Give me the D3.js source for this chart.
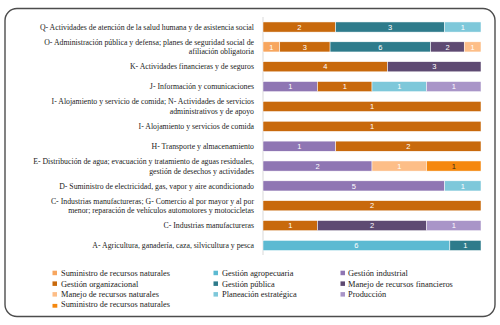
<!DOCTYPE html>
<html>
<head>
<meta charset="utf-8">
<script src="https://cdn.jsdelivr.net/npm/d3@7"></script>
<style>
  body { margin: 0; background: #fff; }
  .cat { font-family: "Liberation Serif", serif; font-size: 7.8px; fill: #222; }
  .leg { font-family: "Liberation Serif", serif; font-size: 8.4px; fill: #222; }
  .val { font-family: "Liberation Sans", Arial, sans-serif; font-size: 7.5px; }
</style>
</head>
<body>
<svg width="500" height="325"></svg>
<script>
// categories, top to bottom (line breaks as in the original)
const categories = [
  ["Q- Actividades de atención de la salud humana y de asistencia social"],
  ["O- Administración pública y defensa; planes de seguridad social de", "afiliación obligatoria"],
  ["K- Actividades financieras y de seguros"],
  ["J- Información y comunicaciones"],
  ["I- Alojamiento y servicio de comida; N- Actividades de servicios", "administrativos y de apoyo"],
  ["I- Alojamiento y servicios de comida"],
  ["H- Transporte y almacenamiento"],
  ["E- Distribución de agua; evacuación y tratamiento de aguas residuales,", "gestión de desechos y actividades"],
  ["D- Suministro de electricidad, gas, vapor y aire acondicionado"],
  ["C- Industrias manufactureras; G- Comercio al por mayor y al por", "menor; reparación de vehículos automotores  y motocicletas"],
  ["C- Industrias manufactureras"],
  ["A- Agricultura, ganadería, caza, silvicultura y pesca"]
];

// series in stacking order; values follow the category order above
const seriesKeys = ["sum1", "gind", "gagro", "gorg", "gpub", "plan", "mfin", "mnat", "sum2", "prod"];
const seriesNames = {
  sum1: "Suministro de recursos naturales",
  gorg: "Gestión organizacional",
  mnat: "Manejo de recursos naturales",
  sum2: "Suministro de recursos naturales",
  gagro: "Gestión agropecuaria",
  gpub: "Gestión pública",
  plan: "Planeación estratégica",
  gind: "Gestión industrial",
  mfin: "Manejo de recursos financieros",
  prod: "Producción"
};
const seriesColors = {
  sum1: "#f7a65f", gorg: "#c8690c", mnat: "#fdbe88", sum2: "#f5880f",
  gagro: "#5cbad2", gpub: "#2e7b8b", plan: "#7ec8da",
  gind: "#8f76b3", mfin: "#5e4a72", prod: "#a995c8"
};

const sum1  = [0, 1, 0, 0, 0, 0, 0, 0, 0, 0, 0, 0];
const gind  = [0, 0, 0, 1, 0, 0, 1, 2, 5, 0, 0, 0];
const gagro = [0, 0, 0, 0, 0, 0, 0, 0, 0, 0, 0, 6];
const gorg  = [2, 3, 4, 1, 1, 1, 2, 0, 0, 2, 1, 0];
const gpub  = [3, 6, 0, 0, 0, 0, 0, 0, 0, 0, 0, 1];
const plan  = [1, 0, 0, 1, 0, 0, 0, 0, 1, 0, 0, 0];
const mfin  = [0, 2, 3, 0, 0, 0, 0, 0, 0, 0, 2, 0];
const mnat  = [0, 1, 0, 0, 0, 0, 0, 1, 0, 0, 0, 0];
const sum2  = [0, 0, 0, 0, 0, 0, 0, 1, 0, 0, 0, 0];
const prod  = [0, 0, 0, 1, 0, 0, 0, 0, 0, 0, 1, 0];

// legend layout: three columns
const legendColumns = [
  ["sum1", "gorg", "mnat", "sum2"],
  ["gagro", "gpub", "plan"],
  ["gind", "mfin", "prod"]
];

const values = { sum1, gind, gagro, gorg, gpub, plan, mfin, mnat, sum2, prod };
const rows = categories.map((c, i) => {
  const r = { idx: i };
  seriesKeys.forEach(k => r[k] = values[k][i]);
  return r;
});

const svg = d3.select("svg");

// frame
svg.append("rect")
  .attr("x", 5).attr("y", 8.5)
  .attr("width", 490).attr("height", 308)
  .attr("rx", 12).attr("ry", 12)
  .attr("fill", "none")
  .attr("stroke", "#4d4d4d")
  .attr("stroke-width", 1.4);

const x = d3.scaleLinear().domain([0, 1]).range([263, 481]);
const y = d3.scaleBand()
  .domain(d3.range(categories.length))
  .range([17, 255.5])
  .paddingInner(0.49)
  .paddingOuter(0.25);

const stack = d3.stack().keys(seriesKeys).offset(d3.stackOffsetExpand);
const stacked = stack(rows);

// axis line
svg.append("line")
  .attr("x1", x(0)).attr("x2", x(0))
  .attr("y1", 17).attr("y2", 255)
  .attr("stroke", "#d9d9d9")
  .attr("stroke-width", 1);

const layers = svg.append("g").selectAll("g")
  .data(stacked)
  .join("g")
  .attr("fill", d => seriesColors[d.key]);

layers.selectAll("rect")
  .data(d => d.map(p => ({ key: d.key, p })))
  .join("rect")
  .filter(d => d.p[1] > d.p[0])
  .attr("x", d => x(d.p[0]))
  .attr("width", d => x(d.p[1]) - x(d.p[0]))
  .attr("y", d => y(d.p.data.idx))
  .attr("height", y.bandwidth())
  .attr("stroke", "#fff")
  .attr("stroke-width", 0.5);

// value labels
stacked.forEach(layer => {
  layer.forEach(p => {
    const v = p.data[layer.key];
    if (!v) return;
    svg.append("text")
      .attr("class", "val")
      .attr("x", (x(p[0]) + x(p[1])) / 2)
      .attr("y", y(p.data.idx) + y.bandwidth() / 2)
      .attr("dy", "0.35em")
      .attr("text-anchor", "middle")
      .attr("fill", layer.key === "sum2" ? "#3a2a15" : "#fff")
      .text(v);
  });
});

// category labels
categories.forEach((lines, i) => {
  const cy = y(i) + y.bandwidth() / 2;
  const lh = 9.6;
  const t = svg.append("text")
    .attr("class", "cat")
    .attr("text-anchor", "end");
  lines.forEach((ln, j) => {
    t.append("tspan")
      .attr("x", 254)
      .attr("y", cy + (j - (lines.length - 1) / 2) * lh)
      .attr("dy", "0.35em")
      .text(ln);
  });
});

// legend
const colX = [[52.5, 61], [213.5, 222], [340.5, 348]];
const rowY = [273, 283.7, 294.4, 305];
legendColumns.forEach((col, ci) => {
  col.forEach((key, ri) => {
    const g = svg.append("g");
    const isShifted = key === "sum2";
    g.append("rect")
      .attr("x", colX[ci][0])
      .attr("y", rowY[ri] - 2.3 + (isShifted ? 1.2 : 0))
      .attr("width", isShifted ? 4.8 : 4.5)
      .attr("height", isShifted ? 3.8 : 4.5)
      .attr("fill", seriesColors[key]);
    g.append("text")
      .attr("class", "leg")
      .attr("x", colX[ci][1])
      .attr("y", rowY[ri] - (isShifted ? 1 : 0))
      .attr("dy", "0.35em")
      .text(seriesNames[key]);
  });
});
</script>
</body>
</html>
